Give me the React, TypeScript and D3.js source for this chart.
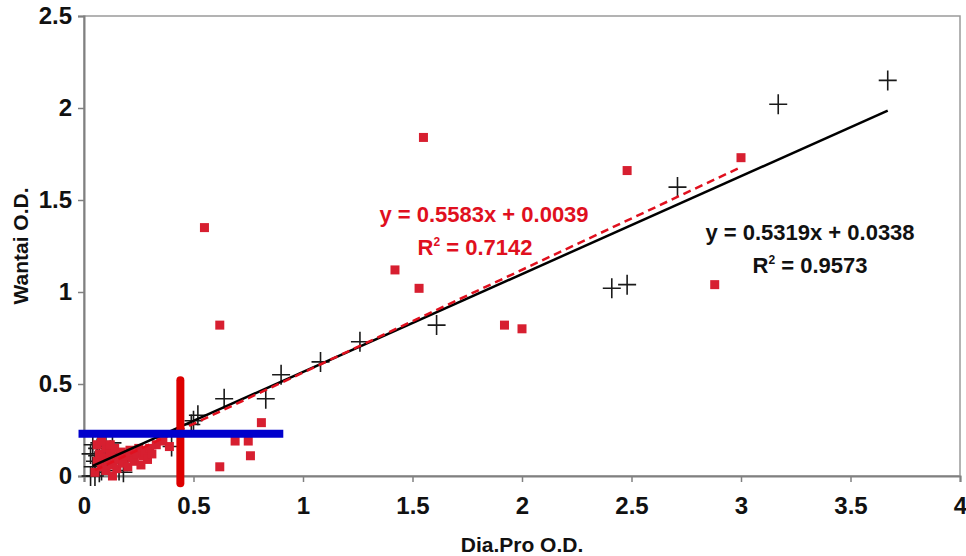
import React, { useEffect, useRef } from "react";
import * as d3 from "d3";

// Dia.Pro O.D. (x) vs Wantai O.D. (y)
const crossX = [3.67, 3.17, 2.71, 2.48, 2.41, 1.61, 1.26, 1.08, 0.90, 0.83, 0.64, 0.52, 0.50, 0.49, 0.40, 0.18,
  0.03, 0.04, 0.05, 0.03, 0.06, 0.07, 0.08, 0.09, 0.10, 0.11, 0.12, 0.13, 0.15, 0.16, 0.05, 0.07, 0.20, 0.06, 0.04, 0.09, 0.14];
const crossY = [2.15, 2.02, 1.57, 1.04, 1.02, 0.82, 0.73, 0.62, 0.55, 0.42, 0.42, 0.33, 0.30, 0.28, 0.16, 0.02,
  0.00, 0.05, 0.08, 0.12, 0.15, 0.18, 0.03, 0.10, 0.17, 0.06, 0.14, 0.18, 0.12, 0.03, 0.00, 0.02, 0.10, 0.11, 0.17, 0.16, 0.08];

const squareX = [1.55, 0.55, 0.62, 2.48, 3.00, 1.42, 1.53, 1.92, 2.00, 2.88, 0.81, 0.69, 0.75, 0.76, 0.62, 0.39,
  0.05, 0.06, 0.07, 0.08, 0.09, 0.10, 0.10, 0.11, 0.12, 0.13, 0.13, 0.14, 0.15, 0.16, 0.17, 0.18, 0.19, 0.20, 0.21,
  0.22, 0.23, 0.24, 0.25, 0.26, 0.27, 0.28, 0.29, 0.30, 0.31, 0.33, 0.35, 0.36, 0.06, 0.08, 0.12, 0.14];
const squareY = [1.84, 1.35, 0.82, 1.66, 1.73, 1.12, 1.02, 0.82, 0.80, 1.04, 0.29, 0.19, 0.19, 0.11, 0.05, 0.16,
  0.02, 0.08, 0.12, 0.05, 0.10, 0.15, 0.03, 0.08, 0.12, 0.00, 0.06, 0.10, 0.04, 0.09, 0.13, 0.07, 0.11, 0.05, 0.14,
  0.10, 0.08, 0.12, 0.15, 0.06, 0.11, 0.13, 0.09, 0.15, 0.12, 0.17, 0.19, 0.20, 0.17, 0.19, 0.17, 0.15];

const xTicks = [0, 0.5, 1, 1.5, 2, 2.5, 3, 3.5, 4];
const yTicks = [0, 0.5, 1, 1.5, 2, 2.5];

// trend lines: slope, intercept, x range
const blackFit = { m: 0.5319, b: 0.0338, from: 0.04, to: 3.67 };
const redFit = { m: 0.5583, b: 0.0039, from: 0.05, to: 3.0 };

// cut-off markers
const xCutoff = 0.44;
const yCutoff = 0.23;

const FONT = "'Liberation Sans', Arial, sans-serif";

const App = () => {
  const svgRef = useRef<SVGSVGElement>(null);

  useEffect(() => {
    const svg = d3.select(svgRef.current);
    svg.selectAll("*").remove();

    const x = d3.scaleLinear().domain([0, 4]).range([84, 960]);
    const y = d3.scaleLinear().domain([0, 2.5]).range([476, 16]);

    // plot frame
    svg.append("rect")
      .attr("x", 84).attr("y", 16).attr("width", 876).attr("height", 460)
      .attr("fill", "none").attr("stroke", "#9a9a9a").attr("stroke-width", 1.5);

    // axes
    const xAxis = svg.append("g")
      .attr("transform", `translate(0,${y(0)})`)
      .call(d3.axisBottom(x).tickValues(xTicks).tickSize(6).tickPadding(15).tickFormat(d3.format("")));
    const yAxis = svg.append("g")
      .attr("transform", `translate(${x(0)},0)`)
      .call(d3.axisLeft(y).tickValues(yTicks).tickSize(6).tickPadding(6).tickFormat(d3.format("")));
    [xAxis, yAxis].forEach((g) => {
      g.attr("font-size", 24).attr("font-family", FONT).attr("font-weight", "bold");
      g.select(".domain").attr("stroke", "#808080").attr("stroke-width", 2);
      g.selectAll(".tick line").attr("stroke", "#808080").attr("stroke-width", 1.5);
      g.selectAll(".tick text").attr("fill", "#111");
    });

    // black crosses
    svg.append("g")
      .selectAll("path")
      .data(d3.range(crossX.length))
      .join("path")
      .attr("d", (i) => {
        const cx = x(crossX[i]);
        const cy = y(crossY[i]);
        return `M${cx - 9},${cy}H${cx + 9}M${cx},${cy - 10}V${cy + 10}`;
      })
      .attr("stroke", "#1a1a1a")
      .attr("stroke-width", 1.6)
      .attr("fill", "none");

    // red squares
    svg.append("g")
      .selectAll("rect")
      .data(d3.range(squareX.length))
      .join("rect")
      .attr("x", (i) => x(squareX[i]) - 4.5)
      .attr("y", (i) => y(squareY[i]) - 4.5)
      .attr("width", 9)
      .attr("height", 9)
      .attr("fill", "#d71f30");

    // trend lines
    const line = d3.line<number>().x((d) => x(d[0])).y((d) => y(d[1]));
    svg.append("path")
      .attr("d", line([[blackFit.from, blackFit.m * blackFit.from + blackFit.b], [blackFit.to, blackFit.m * blackFit.to + blackFit.b]] as any))
      .attr("stroke", "#000").attr("stroke-width", 2.5).attr("fill", "none");
    svg.append("path")
      .attr("d", line([[redFit.from, redFit.m * redFit.from + redFit.b], [redFit.to, redFit.m * redFit.to + redFit.b]] as any))
      .attr("stroke", "#e0101e").attr("stroke-width", 2.5).attr("stroke-dasharray", "8,5").attr("fill", "none");

    // cut-off bars
    svg.append("line")
      .attr("x1", x(xCutoff)).attr("x2", x(xCutoff))
      .attr("y1", y(0.52)).attr("y2", y(-0.04))
      .attr("stroke", "#dd0000").attr("stroke-width", 8).attr("stroke-linecap", "round");
    svg.append("line")
      .attr("x1", x(-0.025)).attr("x2", x(0.91))
      .attr("y1", y(yCutoff)).attr("y2", y(yCutoff))
      .attr("stroke", "#0000cc").attr("stroke-width", 8);

    // equations
    const eq = [
      { t: "y = 0.5583x + 0.0039", r: "0.7142", cx: 484, cy: 222, rx: 475, c: "#e0101e" },
      { t: "y = 0.5319x + 0.0338", r: "0.9573", cx: 810, cy: 240, rx: 810, c: "#111" },
    ];
    eq.forEach((e) => {
      svg.append("text")
        .attr("x", e.cx).attr("y", e.cy)
        .attr("text-anchor", "middle")
        .attr("fill", e.c)
        .style("font-family", FONT).style("font-weight", "bold").style("font-size", "22px")
        .text(e.t);
      const r = svg.append("text")
        .attr("x", e.rx).attr("y", e.cy + 33)
        .attr("text-anchor", "middle")
        .attr("fill", e.c)
        .style("font-family", FONT).style("font-weight", "bold").style("font-size", "22px");
      r.append("tspan").text("R");
      r.append("tspan").attr("dy", -9).style("font-size", "12px").text("2");
      r.append("tspan").attr("dy", 9).text(` = ${e.r}`);
    });

    // axis titles
    svg.append("text")
      .attr("x", 522).attr("y", 552)
      .attr("text-anchor", "middle")
      .attr("fill", "#111")
      .style("font-family", FONT).style("font-weight", "bold").style("font-size", "21px")
      .text("Dia.Pro O.D.");
    svg.append("text")
      .attr("transform", "translate(28,246) rotate(-90)")
      .attr("text-anchor", "middle")
      .attr("fill", "#111")
      .style("font-family", FONT).style("font-weight", "bold").style("font-size", "21px")
      .text("Wantai O.D.");
  }, []);

  return (
    <svg
      ref={svgRef}
      width={966}
      height={556}
      style={{ position: "absolute", left: 0, top: 0, background: "#fff" }}
    />
  );
};

export default App;
